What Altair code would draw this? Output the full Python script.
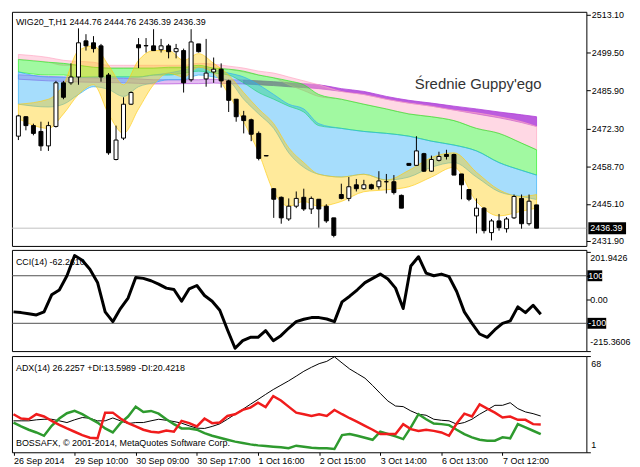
import altair as alt
import pandas as pd

# ---------------- data ----------------
bar_open = [2469.5, 2476.5, 2473.3, 2471.2, 2466.0, 2473.0, 2488.7, 2488.7, 2490.8, 2503.8,
            2503.1, 2502.0, 2491.5, 2461.1, 2468.8, 2481.0, 2502.4, 2502.0, 2502.0, 2500.6,
            2502.0, 2499.9, 2500.3, 2489.8, 2502.7, 2490.1, 2492.6, 2493.6, 2489.4, 2482.8,
            2476.8, 2475.4, 2470.5, 2462.5, 2450.6, 2447.5, 2439.7, 2444.3, 2447.5, 2443.3,
            2446.8, 2444.3, 2440.1, 2448.5, 2447.1, 2452.0, 2450.6, 2452.0, 2451.3, 2453.1,
            2453.1, 2448.2, 2459.7, 2459.0, 2463.2, 2456.9, 2460.8, 2462.9, 2462.9, 2455.9,
            2450.3, 2440.8, 2443.6, 2434.8, 2439.0, 2436.2, 2440.1, 2447.1, 2438.0, 2444.76]
bar_high = [2477.2, 2476.6, 2474.0, 2474.7, 2474.7, 2489.4, 2489.4, 2495.7, 2508.3, 2506.2,
            2505.5, 2502.7, 2492.2, 2473.3, 2483.5, 2485.6, 2504.8, 2504.8, 2508.0, 2504.5,
            2502.7, 2502.7, 2501.0, 2508.0, 2502.7, 2504.5, 2497.8, 2495.7, 2489.8, 2482.8,
            2478.6, 2475.8, 2471.2, 2462.6, 2450.8, 2447.8, 2447.1, 2449.6, 2450.6, 2447.8,
            2446.8, 2445.0, 2440.1, 2452.4, 2454.8, 2454.1, 2453.8, 2452.4, 2456.9, 2455.9,
            2455.5, 2448.5, 2459.8, 2469.5, 2463.5, 2462.5, 2463.9, 2464.6, 2463.2, 2455.9,
            2450.3, 2447.1, 2444.0, 2439.7, 2441.5, 2440.4, 2448.5, 2448.5, 2448.5, 2444.76]
bar_low = [2468.1, 2471.6, 2469.8, 2464.2, 2464.2, 2472.6, 2482.8, 2488.0, 2488.0, 2500.3,
           2499.6, 2489.1, 2462.8, 2460.8, 2468.1, 2480.7, 2494.0, 2499.6, 2500.3, 2499.6,
           2497.5, 2497.5, 2485.2, 2489.1, 2499.6, 2487.3, 2488.7, 2487.0, 2478.2, 2474.7,
           2470.5, 2467.7, 2460.8, 2462.3, 2440.1, 2438.0, 2439.0, 2443.6, 2442.6, 2441.5,
           2436.6, 2438.3, 2433.1, 2446.8, 2446.1, 2449.6, 2450.3, 2450.3, 2450.3, 2448.9,
           2448.5, 2443.6, 2458.9, 2459.0, 2456.6, 2456.6, 2460.4, 2461.1, 2455.5, 2446.8,
           2446.1, 2434.5, 2434.5, 2432.0, 2435.5, 2434.8, 2439.7, 2436.2, 2437.3, 2436.39]
bar_close = [2476.8, 2473.3, 2470.5, 2466.0, 2473.3, 2488.7, 2483.5, 2490.8, 2503.1, 2502.0,
             2501.0, 2490.8, 2463.5, 2468.1, 2481.0, 2485.2, 2501.3, 2502.1, 2500.3, 2502.0,
             2499.9, 2501.0, 2488.7, 2503.4, 2499.9, 2492.2, 2493.6, 2489.4, 2482.4, 2476.5,
             2475.1, 2470.2, 2461.5, 2462.4, 2446.8, 2440.1, 2444.3, 2447.1, 2443.3, 2447.1,
             2443.3, 2439.0, 2433.8, 2447.1, 2451.3, 2450.6, 2452.0, 2450.6, 2453.4, 2453.1,
             2449.2, 2443.6, 2459.0, 2464.2, 2456.9, 2461.1, 2462.2, 2462.2, 2455.5, 2452.0,
             2446.8, 2443.6, 2435.5, 2439.0, 2436.6, 2439.7, 2447.8, 2438.0, 2446.1, 2436.39]

cci_values = [-52, -55, -60, -65, -52, 20, 40, 100, 185, 165,
              127, 72, -52, -93, -38, 6, 93, 89, 79, 65,
              48, 42, -7, 45, 59, 17, -7, -45, -127, -205,
              -173, -159, -159, -131, -173, -152, -121, -93, -83, -76,
              -76, -82, -93, -10, 14, 41, 71, 89, 107, 86,
              48, -38, 141, 180, 111, 100, 107, 96, 34, -52,
              -100, -145, -159, -127, -100, -90, -31, -55, -24, -62.261]

adx_values = [22.9, 22.9, 22.9, 23.6, 24.0, 24.0, 22.9, 21.7, 23.6, 25.2,
              24.7, 22.9, 22.9, 24.9, 22.9, 21.0, 21.7, 21.7, 22.9, 24.0,
              23.3, 22.4, 21.3, 19.4, 17.8, 17.6, 19.0, 20.8, 24.0, 27.5,
              30.9, 34.4, 37.8, 41.3, 44.7, 47.7, 50.7, 54.0, 57.4, 60.2,
              62.7, 64.3, 67.5, 63.2, 59.0, 55.8, 52.6, 47.5, 42.0, 36.7,
              33.2, 32.8, 29.8, 27.5, 26.8, 24.0, 23.3, 22.9, 20.6, 21.7,
              24.0, 27.5, 30.5, 33.7, 33.7, 35.5, 31.4, 29.1, 27.9, 26.23]
plus_di = [21.7, 19.0, 16.7, 14.8, 12.5, 19.4, 24.5, 28.2, 29.8, 27.5,
           24.5, 21.7, 17.6, 14.8, 21.3, 25.9, 32.8, 29.1, 29.8, 27.9,
           24.0, 20.6, 17.6, 17.6, 16.7, 14.3, 12.5, 11.1, 9.7, 8.4,
           7.5, 6.5, 5.8, 5.4, 4.9, 4.5, 3.8, 5.6, 4.9, 4.2,
           3.8, 3.8, 3.3, 13.0, 13.7, 12.5, 11.1, 9.7, 15.3, 13.7,
           12.1, 10.2, 18.3, 27.5, 24.0, 21.0, 20.6, 19.9, 16.7, 13.7,
           11.4, 9.7, 9.1, 9.1, 11.4, 10.7, 20.6, 18.3, 16.0, 13.60]
minus_di = [27.5, 24.5, 24.0, 27.5, 25.9, 22.9, 20.1, 17.6, 15.3, 13.0,
            11.1, 10.7, 28.6, 28.6, 24.5, 21.3, 19.0, 16.7, 15.3, 14.8,
            16.2, 15.3, 22.9, 21.3, 19.0, 24.5, 21.3, 21.7, 26.3, 27.5,
            30.5, 32.1, 35.5, 32.5, 40.1, 37.1, 32.8, 28.6, 27.5, 26.3,
            27.5, 26.3, 30.5, 27.5, 24.7, 22.2, 19.4, 16.7, 13.7, 13.7,
            13.7, 20.6, 17.1, 15.9, 16.7, 15.9, 14.8, 12.5, 21.0, 27.9,
            25.9, 34.4, 31.4, 28.6, 25.2, 25.9, 23.6, 23.6, 20.6, 20.42]

# Guppy ribbon: colour groups, upper and lower edge of each group at sampled bars
band_bars = [0, 4, 6, 8, 10, 12, 14, 16, 18, 20, 22, 24, 26, 28, 30, 32, 34, 36, 38, 40,
             43, 46, 49, 52, 55, 58, 61, 64, 67, 69]
purple_top = [2491.6, 2491.0, 2490.8, 2490.6, 2490.5, 2490.4, 2490.3, 2490.1, 2489.8, 2489.8,
              2489.8, 2489.8, 2490.0, 2489.8, 2489.7, 2489.4, 2489.1, 2488.7, 2488.4, 2488.0,
              2486.6, 2485.6, 2483.8, 2482.4, 2481.4, 2480.3, 2479.3, 2478.2, 2477.2, 2476.5]
purple_bot = [2490.0, 2489.4, 2489.2, 2489.0, 2488.9, 2488.8, 2488.7, 2488.5, 2488.3, 2488.3,
              2488.4, 2488.4, 2488.6, 2488.4, 2488.3, 2488.0, 2487.7, 2487.3, 2487.0, 2486.6,
              2485.6, 2484.5, 2482.8, 2481.4, 2480.3, 2478.9, 2477.5, 2476.1, 2474.4, 2473.0]
pink_top = [2498.9, 2497.8, 2496.8, 2496.4, 2496.1, 2495.0, 2495.0, 2495.0, 2495.0, 2495.0,
            2495.0, 2495.7, 2495.4, 2494.7, 2494.0, 2492.9, 2492.2, 2490.8, 2489.4, 2488.0,
            2485.6, 2484.5, 2482.8, 2481.4, 2480.3, 2478.9, 2477.9, 2476.5, 2474.7, 2473.0]
pink_bot = [2497.1, 2496.1, 2495.0, 2495.0, 2494.3, 2494.0, 2494.0, 2494.0, 2494.0, 2494.0,
            2494.0, 2494.3, 2494.0, 2493.6, 2492.6, 2491.5, 2490.5, 2488.0, 2485.9, 2483.8,
            2482.8, 2481.0, 2479.3, 2477.5, 2476.5, 2475.1, 2472.3, 2470.5, 2467.0, 2464.6]
green_top = [2497.1, 2496.1, 2495.7, 2495.0, 2494.3, 2494.0, 2494.0, 2494.0, 2494.0, 2494.3,
             2494.3, 2495.0, 2494.0, 2493.6, 2492.9, 2491.5, 2490.5, 2489.4, 2488.0, 2484.5,
             2482.8, 2481.0, 2479.3, 2477.5, 2476.5, 2475.1, 2472.3, 2470.5, 2467.0, 2464.6]
green_bot = [2492.6, 2491.5, 2491.5, 2490.8, 2490.8, 2490.8, 2490.8, 2490.8, 2491.5, 2491.5,
             2492.2, 2492.9, 2492.2, 2491.5, 2488.7, 2485.2, 2482.8, 2480.3, 2478.2, 2473.3,
             2472.3, 2471.2, 2470.5, 2469.5, 2467.7, 2466.3, 2464.2, 2460.0, 2457.2, 2455.5]
blue_top = [2492.6, 2490.8, 2490.8, 2490.5, 2490.8, 2490.8, 2490.8, 2490.8, 2491.5, 2492.2,
            2493.3, 2494.3, 2493.3, 2492.2, 2490.8, 2488.0, 2484.5, 2481.0, 2479.3, 2474.0,
            2472.3, 2471.2, 2470.5, 2469.5, 2467.7, 2466.3, 2464.2, 2460.0, 2457.2, 2455.5]
blue_bot = [2481.0, 2480.0, 2481.0, 2484.5, 2487.3, 2486.3, 2483.8, 2487.3, 2488.7, 2489.8,
            2489.8, 2491.5, 2490.8, 2489.4, 2482.8, 2477.5, 2472.3, 2463.5, 2458.3, 2455.8,
            2454.8, 2455.8, 2453.7, 2454.8, 2458.3, 2460.0, 2454.8, 2449.5, 2447.8, 2446.7]
yellow_top = [2481.0, 2482.8, 2488.0, 2500.3, 2502.0, 2495.0, 2488.0, 2496.8, 2500.3, 2500.3,
              2496.8, 2499.2, 2495.7, 2491.5, 2485.2, 2479.3, 2474.0, 2465.3, 2460.0, 2455.8,
              2454.8, 2455.8, 2453.7, 2457.2, 2461.8, 2463.5, 2456.5, 2450.2, 2447.8, 2448.5]
yellow_bot = [2475.8, 2472.3, 2477.5, 2484.5, 2488.0, 2477.5, 2470.5, 2479.3, 2488.0, 2492.2,
              2490.8, 2494.3, 2492.2, 2484.5, 2474.7, 2463.5, 2449.5, 2444.3, 2446.0, 2444.3,
              2446.0, 2449.5, 2450.2, 2451.3, 2454.8, 2458.3, 2446.0, 2440.8, 2442.5, 2443.6]

price_ticks = [2431.90, 2445.10, 2458.70, 2472.30, 2485.90, 2499.50, 2513.10]
last_price = 2436.39
cci_levels = [100, -100]
cci_ticks = [201.9426, 100, 0, -100, -215.3606]
cci_plain_labels = ["201.9426", "0.00", "-215.3606"]
cci_plain_values = [201.9426, 0, -215.3606]
adx_ticks = [68, 1]
time_label_bars = [0, 8, 16, 24, 32, 40, 48, 56, 64]
time_labels = ["26 Sep 2014", "29 Sep 10:00", "30 Sep 09:00", "30 Sep 17:00", "1 Oct 16:00",
               "2 Oct 15:00", "3 Oct 14:00", "6 Oct 13:00", "7 Oct 12:00"]

title_main = "WIG20_T,H1  2444.76 2444.76 2436.39 2436.39"
title_guppy = "Średnie Guppy'ego"
title_cci = "CCI(14) -62.2610"
title_adx = "ADX(14) 26.2257 +DI:13.5989 -DI:20.4218"
copyright_text = "BOSSAFX, © 2001-2014, MetaQuotes Software Corp."

# ---------------- frames ----------------
bars = list(range(len(bar_close)))
candles = pd.DataFrame({"bar": bars, "open": bar_open, "high": bar_high,
                        "low": bar_low, "close": bar_close})
ind = pd.DataFrame({"bar": bars, "cci": cci_values, "adx": adx_values,
                    "pdi": plus_di, "mdi": minus_di})
# (name, top, bottom, colour, opacity, first bar, last bar)
band_defs = [("purple", purple_top, purple_bot, "#B040D8", 0.35, 0, 30),
             ("purple", purple_top, purple_bot, "#B040D8", 0.85, 30, 69),
             ("pink", pink_top, pink_bot, "#FFA8C4", 0.45, 0, 69),
             ("green", green_top, green_bot, "#1EF01E", 0.42, 0, 69),
             ("blue", blue_top, blue_bot, "#2AAEF8", 0.42, 0, 69),
             ("yellow", yellow_top, yellow_bot, "#FFCC11", 0.42, 0, 69)]

FONT = "Liberation Sans"
W = 579
H1, H2, H3 = 236, 102, 97
xs = alt.Scale(domain=[-0.195, 74.97], nice=False, zero=False)
X_NONE = alt.X("bar:Q", scale=xs, axis=None)

# ---------------- main panel ----------------
ys1 = alt.Scale(domain=[2430.0, 2514.25], nice=False, zero=False)
price_axis = alt.Axis(orient="right", values=price_ticks, format=".2f", tickSize=4,
                      labelPadding=1, domain=False, grid=False, title=None,
                      labelFlush=False, labelOverlap=False)

layers = []
for name, tops, bots, col, op, b0, b1 in band_defs:
    df = pd.DataFrame({"bar": band_bars, "top": tops, "bot": bots})
    df = df[(df["bar"] >= b0) & (df["bar"] <= b1)]
    layers.append(
        alt.Chart(df).mark_area(color=col, fillOpacity=op, stroke=col, strokeWidth=0.8,
                                strokeOpacity=min(1.0, op + 0.4), interpolate="monotone")
        .encode(x=X_NONE, y=alt.Y("top:Q", scale=ys1, axis=price_axis), y2="bot:Q")
    )

price_df = pd.DataFrame({"p": [last_price], "t": [f"{last_price:.2f}"]})
layers.append(alt.Chart(price_df).mark_rule(color="#c0c0c0", strokeWidth=1)
              .encode(y=alt.Y("p:Q", scale=ys1, axis=price_axis)))
layers.append(alt.Chart(candles).mark_rule(color="black", strokeWidth=1)
              .encode(x=X_NONE, y=alt.Y("low:Q", scale=ys1, axis=price_axis), y2="high:Q"))
layers.append(alt.Chart(candles).mark_bar(size=4, stroke="black", strokeWidth=1)
              .encode(x=X_NONE, y=alt.Y("open:Q", scale=ys1, axis=price_axis), y2="close:Q",
                      fill=alt.condition("datum.close >= datum.open",
                                         alt.value("white"), alt.value("black"))))
layers.append(alt.Chart(price_df).mark_rect(color="black", height=12, clip=False)
              .encode(x=alt.value(W + 2), x2=alt.value(W + 40),
                      y=alt.Y("p:Q", scale=ys1, axis=price_axis)))
layers.append(alt.Chart(price_df).mark_text(color="white", align="left", baseline="middle",
                                            font=FONT, fontSize=9, clip=False)
              .encode(x=alt.value(W + 4), y=alt.Y("p:Q", scale=ys1, axis=price_axis), text="t:N"))
layers.append(alt.Chart(pd.DataFrame({"t": [title_main]}))
              .mark_text(align="left", baseline="middle", font=FONT, fontSize=9, color="black")
              .encode(x=alt.value(4), y=alt.value(10), text="t:N"))
layers.append(alt.Chart(pd.DataFrame({"t": [title_guppy]}))
              .mark_text(align="left", baseline="middle", font=FONT, fontSize=15, color="#333333")
              .encode(x=alt.value(406), y=alt.value(73), text="t:N"))

main = alt.layer(*layers).properties(width=W, height=H1)

# ---------------- CCI panel ----------------
ys2 = alt.Scale(domain=[-216.9, 208.7], nice=False, zero=False)
cci_axis = alt.Axis(orient="right", values=cci_ticks, labels=False, tickSize=4,
                    domain=False, grid=False, title=None)
lev_df = pd.DataFrame({"v": cci_levels})

cci_layers = [
    alt.Chart(lev_df).mark_rule(color="#505050", strokeWidth=1)
    .encode(y=alt.Y("v:Q", scale=ys2, axis=cci_axis)),
    alt.Chart(ind).mark_line(color="black", strokeWidth=3, strokeJoin="round")
    .encode(x=X_NONE, y=alt.Y("cci:Q", scale=ys2, axis=cci_axis)),
]
for v, bw in zip(cci_levels, [15, 19]):
    one = pd.DataFrame({"v": [v], "t": [str(v)]})
    cci_layers.append(
        alt.Chart(one).mark_rect(color="black", height=11, clip=False)
        .encode(x=alt.value(W + 1), x2=alt.value(W + 1 + bw),
                y=alt.Y("v:Q", scale=ys2, axis=cci_axis)))
    cci_layers.append(
        alt.Chart(one).mark_text(color="white", align="left", baseline="middle", font=FONT,
                                 fontSize=9, clip=False)
        .encode(x=alt.value(W + 2), y=alt.Y("v:Q", scale=ys2, axis=cci_axis), text="t:N"))
for v, t, dy in zip(cci_plain_values, cci_plain_labels, [7, 0, -9]):
    cci_layers.append(
        alt.Chart(pd.DataFrame({"v": [v], "t": [t]}))
        .mark_text(color="black", align="left", baseline="middle", font=FONT, fontSize=9,
                   dy=dy, clip=False)
        .encode(x=alt.value(W + 4), y=alt.Y("v:Q", scale=ys2, axis=cci_axis), text="t:N"))
cci_layers.append(alt.Chart(pd.DataFrame({"t": [title_cci]}))
                  .mark_text(align="left", baseline="middle", font=FONT, fontSize=9, color="black")
                  .encode(x=alt.value(4), y=alt.value(12), text="t:N"))
cci_chart = alt.layer(*cci_layers).properties(width=W, height=H2)

# ---------------- ADX panel ----------------
ys3 = alt.Scale(domain=[1, 68], nice=False, zero=False)
adx_axis = alt.Axis(orient="right", values=adx_ticks, labels=False, tickSize=4,
                    domain=False, grid=False, title=None)
label_js = "[" + ",".join("'" + t + "'" for t in time_labels) + "][round(datum.value / 8)]"
time_axis = alt.Axis(orient="bottom", values=time_label_bars, labelExpr=label_js, tickSize=3,
                     labelAlign="left", labelPadding=1, domain=False, grid=False, title=None,
                     labelFlush=False, labelOverlap=False, labelFont=FONT, labelFontSize=9)
X_TIME = alt.X("bar:Q", scale=xs, axis=time_axis)

adx_layers = [
    alt.Chart(ind).mark_line(color="black", strokeWidth=1)
    .encode(x=X_TIME, y=alt.Y("adx:Q", scale=ys3, axis=adx_axis)),
    alt.Chart(ind).mark_line(color="#2E9A2E", strokeWidth=2.5)
    .encode(x=X_TIME, y=alt.Y("pdi:Q", scale=ys3, axis=adx_axis)),
    alt.Chart(ind).mark_line(color="#F01C1C", strokeWidth=2.5)
    .encode(x=X_TIME, y=alt.Y("mdi:Q", scale=ys3, axis=adx_axis)),
]
for v, dy in zip(adx_ticks, [8, -7]):
    adx_layers.append(
        alt.Chart(pd.DataFrame({"v": [v], "t": [str(v)]}))
        .mark_text(color="black", align="left", baseline="middle", font=FONT, fontSize=9,
                   dy=dy, clip=False)
        .encode(x=alt.value(W + 5), y=alt.Y("v:Q", scale=ys3, axis=adx_axis), text="t:N"))
adx_layers.append(alt.Chart(pd.DataFrame({"t": [title_adx]}))
                  .mark_text(align="left", baseline="middle", font=FONT, fontSize=9, color="black")
                  .encode(x=alt.value(4), y=alt.value(12), text="t:N"))
adx_layers.append(alt.Chart(pd.DataFrame({"t": [copyright_text]}))
                  .mark_text(align="left", baseline="middle", font=FONT, fontSize=9, color="black")
                  .encode(x=alt.value(4), y=alt.value(88), text="t:N"))
adx_chart = alt.layer(*adx_layers).properties(width=W, height=H3)

chart = (
    alt.vconcat(main, cci_chart, adx_chart, spacing=2)
    .resolve_scale(y="independent")
    .properties(padding=0, background="white")
    .configure_view(stroke="black", strokeWidth=1)
    .configure_axis(labelFont=FONT, labelFontSize=9, labelColor="black", tickColor="black")
)

chart.save("out.html", embed_options={"renderer": "svg", "actions": False})
